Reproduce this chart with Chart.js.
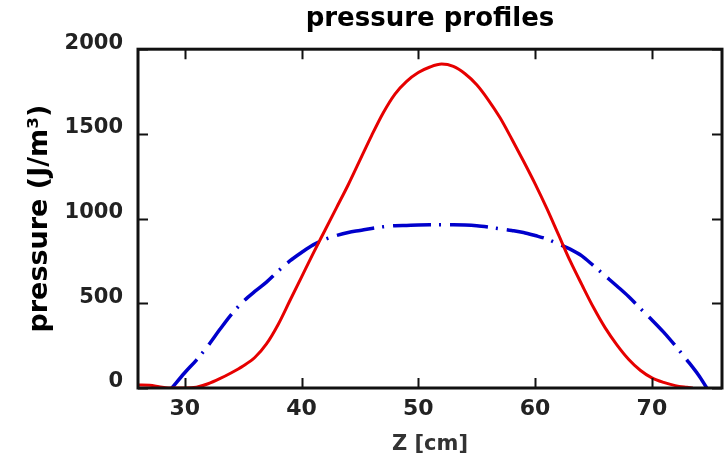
<!DOCTYPE html>
<html>
<head>
<meta charset="utf-8">
<script src="https://cdn.jsdelivr.net/npm/chart.js@4"></script>
<style>
  html, body { margin: 0; padding: 0; background: #fff; }
  #wrap { width: 724px; height: 459px; position: relative; }
</style>
</head>
<body>
<div id="wrap"><canvas id="profiles"></canvas></div>
<script>
// axial position Z [cm] and pressure [J/m^3] for the two profiles
var redZ = [26, 27, 27.8, 28.6, 30, 31, 32, 33, 34, 35, 36, 37, 38, 39, 40, 41, 42, 43, 44, 45,
            46, 47, 48, 49, 50, 51, 52, 53, 54, 55, 56, 57, 58, 59, 60, 61, 62, 63, 64, 65,
            66, 67, 68, 69, 70, 71, 72, 73, 73.5];
var redP = [18, 16, 8, 0, 0, 5, 25, 55, 90, 130, 180, 260, 375, 515, 655, 795, 930, 1065, 1200, 1345,
            1490, 1625, 1735, 1810, 1862, 1895, 1912, 1898, 1855, 1790, 1700, 1595, 1470, 1340, 1205, 1060, 905, 750, 610, 475,
            355, 255, 170, 105, 60, 33, 14, 4, 0];

var blueZ = [28.9, 30, 31, 32, 33, 34, 35, 36, 37, 38, 39, 40, 41, 42, 43, 44, 45, 46, 47, 48,
             49, 50, 51, 52, 53, 54, 55, 56, 57, 58, 59, 60, 61, 62, 63, 64, 65, 66, 67, 68,
             69, 70, 71, 72, 73, 74, 74.7];
var blueP = [0, 90, 165, 250, 345, 435, 510, 570, 625, 690, 750, 800, 845, 877, 900, 918, 930, 942, 952, 958,
             960, 962, 963, 963, 963, 962, 958, 950, 940, 930, 918, 900, 880, 850, 820, 780, 722, 662, 602, 540,
             470, 402, 330, 250, 165, 75, 0];

var xTicks = [30, 40, 50, 60, 70];
var yTicks = [0, 500, 1000, 1500, 2000];

function toPoints(xs, ys) {
   var pts = [];
   for (var i = 0; i < xs.length; i++) {
      pts.push({ x: xs[i], y: ys[i] });
   }
   return pts;
}

// frame around the plot plus short ticks pointing inward on all four sides
var framePlugin = {
   id: 'frame',
   afterDatasetsDraw: function(chart) {
      var ctx = chart.ctx;
      var a = chart.chartArea;
      var xs = chart.scales.x;
      var ys = chart.scales.y;
      var len = 10;

      ctx.save();
      ctx.strokeStyle = '#111';
      ctx.lineWidth = 2;
      ctx.beginPath();
      xTicks.forEach(function(v) {
         var px = Math.round(xs.getPixelForValue(v)) + 0.5;
         ctx.moveTo(px, a.bottom); ctx.lineTo(px, a.bottom - len);
         ctx.moveTo(px, a.top); ctx.lineTo(px, a.top + len);
      });
      yTicks.forEach(function(v) {
         var py = Math.round(ys.getPixelForValue(v)) + 0.5;
         ctx.moveTo(a.left, py); ctx.lineTo(a.left + len, py);
         ctx.moveTo(a.right, py); ctx.lineTo(a.right - len, py);
      });
      ctx.stroke();

      ctx.lineWidth = 3;
      ctx.strokeRect(a.left, a.top, a.right - a.left, a.bottom - a.top);
      ctx.restore();
   }
};

// plain numbers, no thousands separator
function plainLabel(value) {
   return String(value);
}

new Chart(document.getElementById('profiles').getContext('2d'), {
   type: 'line',
   data: {
      datasets: [{
         data: toPoints(redZ, redP),
         borderColor: '#e60000',
         borderWidth: 3,
         pointRadius: 0,
         cubicInterpolationMode: 'monotone',
         fill: false
      }, {
         data: toPoints(blueZ, blueP),
         borderColor: '#0000cc',
         borderWidth: 3.5,
         borderDash: [38, 8, 2, 9],
         pointRadius: 0,
         cubicInterpolationMode: 'monotone',
         fill: false
      }]
   },
   options: {
      responsive: true,
      maintainAspectRatio: false,
      animation: false,
      layout: { padding: { left: 0, right: 2, top: 0, bottom: 0 } },
      plugins: {
         legend: { display: false },
         tooltip: { enabled: false },
         title: {
            display: true,
            text: 'pressure profiles',
            fullSize: false,
            color: '#000',
            font: { family: 'DejaVu Sans', weight: 'bold', size: 26, lineHeight: 1.2 },
            padding: { top: 4, bottom: 14 }
         }
      },
      scales: {
         x: {
            type: 'linear',
            min: 26,
            max: 76,
            grid: { display: false, drawTicks: false },
            border: { display: false },
            afterBuildTicks: function(scale) {
               scale.ticks = xTicks.map(function(v) { return { value: v }; });
            },
            afterFit: function(scale) { scale.height = 71; },
            ticks: {
               color: '#222',
               font: { family: 'DejaVu Sans', weight: 'bold', size: 22 },
               padding: 8,
               maxRotation: 0,
               callback: plainLabel
            },
            title: {
               display: true,
               text: 'Z [cm]',
               color: '#333',
               font: { family: 'DejaVu Sans', weight: 'bold', size: 21, lineHeight: 1.2 },
               padding: { top: 0, bottom: 2 }
            }
         },
         y: {
            type: 'linear',
            min: 0,
            max: 2000,
            grid: { display: false, drawTicks: false },
            border: { display: false },
            afterBuildTicks: function(scale) {
               scale.ticks = yTicks.map(function(v) { return { value: v }; });
            },
            afterFit: function(scale) { scale.width = 138; },
            ticks: {
               color: '#222',
               font: { family: 'DejaVu Sans', weight: 'bold', size: 21 },
               padding: 15,
               labelOffset: -6,
               callback: plainLabel
            },
            title: {
               display: true,
               text: 'pressure (J/m³)',
               color: '#000',
               font: { family: 'DejaVu Sans', weight: 'bold', size: 27, lineHeight: 1.2 },
               padding: { top: 24, bottom: 0 }
            }
         }
      }
   },
   plugins: [framePlugin]
});
</script>
</body>
</html>
